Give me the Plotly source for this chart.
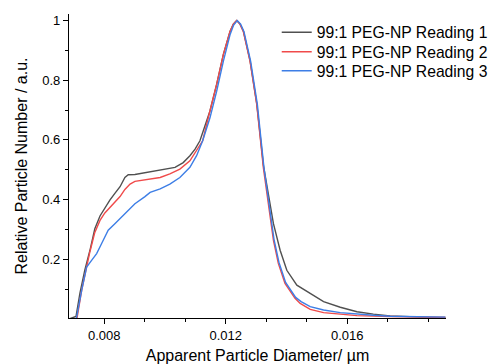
import plotly.graph_objects as go

# Reading 1 (black)
x1 = [0.00684, 0.00707, 0.00720, 0.00736, 0.00753, 0.00769, 0.00786, 0.00802, 0.00819, 0.00835,
      0.00852, 0.00868, 0.00879, 0.00901, 0.00934, 0.00951, 0.00984, 0.01033, 0.01060, 0.01082,
      0.01099, 0.01115, 0.01148, 0.01170, 0.01192, 0.01214, 0.01225, 0.01236, 0.01247, 0.01258,
      0.01280, 0.01302, 0.01324, 0.01335, 0.01357, 0.01379, 0.01401, 0.01434, 0.01472, 0.01522,
      0.01577, 0.01632, 0.01686, 0.01741, 0.01851, 0.01923]
y1 = [0.0, 0.008, 0.086, 0.163, 0.230, 0.302, 0.345, 0.372, 0.399, 0.421,
      0.443, 0.474, 0.483, 0.484, 0.490, 0.492, 0.497, 0.508, 0.524, 0.547,
      0.569, 0.597, 0.697, 0.786, 0.886, 0.963, 0.988, 1.0, 0.988, 0.965,
      0.866, 0.722, 0.515, 0.452, 0.319, 0.230, 0.163, 0.113, 0.088, 0.058,
      0.039, 0.024, 0.016, 0.010, 0.006, 0.005]

# Reading 2 (red)
x2 = [0.00684, 0.00710, 0.00726, 0.00742, 0.00753, 0.00769, 0.00786, 0.00802, 0.00835, 0.00852,
      0.00868, 0.00885, 0.00901, 0.00934, 0.00951, 0.00984, 0.01016, 0.01049, 0.01082, 0.01104,
      0.01124, 0.01148, 0.01170, 0.01192, 0.01214, 0.01225, 0.01236, 0.01247, 0.01258, 0.01280,
      0.01302, 0.01324, 0.01335, 0.01346, 0.01357, 0.01373, 0.01395, 0.01428, 0.01445, 0.01478,
      0.01522, 0.01577, 0.01632, 0.01741, 0.01851, 0.01923]
y2 = [0.0, 0.0, 0.097, 0.174, 0.226, 0.290, 0.330, 0.355, 0.392, 0.410,
      0.434, 0.452, 0.461, 0.466, 0.469, 0.474, 0.486, 0.502, 0.530, 0.563,
      0.597, 0.697, 0.786, 0.886, 0.963, 0.988, 1.0, 0.988, 0.963, 0.863,
      0.719, 0.505, 0.419, 0.341, 0.263, 0.186, 0.119, 0.069, 0.052, 0.032,
      0.021, 0.016, 0.011, 0.008, 0.006, 0.005]

# Reading 3 (blue)
x3 = [0.00684, 0.00708, 0.00726, 0.00742, 0.00759, 0.00775, 0.00791, 0.00813, 0.00835, 0.00857,
      0.00879, 0.00901, 0.00934, 0.00951, 0.00984, 0.01016, 0.01049, 0.01082, 0.01104, 0.01124,
      0.01148, 0.01170, 0.01192, 0.01214, 0.01226, 0.01238, 0.01249, 0.01260, 0.01282, 0.01304,
      0.01326, 0.01337, 0.01348, 0.01359, 0.01375, 0.01397, 0.01430, 0.01448, 0.01478, 0.01522,
      0.01577, 0.01632, 0.01686, 0.01741, 0.01851, 0.01923]
y3 = [0.0, 0.0, 0.097, 0.174, 0.197, 0.219, 0.252, 0.297, 0.319, 0.341,
      0.363, 0.386, 0.410, 0.424, 0.436, 0.452, 0.474, 0.508, 0.547, 0.597,
      0.674, 0.763, 0.863, 0.952, 0.985, 1.0, 0.988, 0.963, 0.863, 0.719,
      0.505, 0.424, 0.345, 0.266, 0.190, 0.122, 0.072, 0.058, 0.041, 0.030,
      0.021, 0.016, 0.012, 0.009, 0.007, 0.006]

names = ["99:1 PEG-NP Reading 1", "99:1 PEG-NP Reading 2", "99:1 PEG-NP Reading 3"]
colors = ["#505050", "#f04a4a", "#3d7ee6"]

x_ticks = [0.008, 0.012, 0.016]
x_ticklabels = ["0.008", "0.012", "0.016"]
y_ticks = [0.2, 0.4, 0.6, 0.8, 1.0]
y_ticklabels = ["0.2", "0.4", "0.6", "0.8", "1"]

FONT = "Arial, Liberation Sans, sans-serif"
legend_ids = ["legend", "legend2", "legend3"]
legend_y = [0.9947, 0.9309, 0.8684]

fig = go.Figure()
for xs, ys, n, c, lg in zip([x1, x2, x3], [y1, y2, y3], names, colors, legend_ids):
    fig.add_trace(go.Scatter(x=xs, y=ys, mode="lines", name=n, legend=lg,
                             line=dict(color=c, width=1.4)))

legend_common = dict(x=0.551, xanchor="left", yanchor="top",
                     font=dict(size=15.7, family=FONT), bgcolor="rgba(0,0,0,0)",
                     borderwidth=0)

fig.update_layout(
    width=490, height=364,
    margin=dict(l=69, r=44, t=14, b=46, autoexpand=False),
    paper_bgcolor="white", plot_bgcolor="white",
    font=dict(family=FONT, color="#000000"),
    legend=dict(y=legend_y[0], **legend_common),
    legend2=dict(y=legend_y[1], **legend_common),
    legend3=dict(y=legend_y[2], **legend_common),
    showlegend=True,
)
fig.update_xaxes(
    range=[0.00684, 0.01925], automargin=False,
    showline=True, linecolor="#000000", linewidth=1.3,
    showgrid=False, zeroline=False,
    ticks="outside", ticklen=5, tickwidth=1.2, tickcolor="#000000",
    tickvals=x_ticks, ticktext=x_ticklabels,
    tickfont=dict(size=13, family=FONT),
    minor=dict(ticks="outside", ticklen=3, tickwidth=1.2, tickcolor="#000000",
               tick0=0.008, dtick=0.004 / 3, showgrid=False),
    title=dict(text="Apparent Particle Diameter/ µm", font=dict(size=16, family=FONT), standoff=8),
)
fig.update_yaxes(
    range=[0.003, 1.022], automargin=False,
    showline=True, linecolor="#000000", linewidth=1.3,
    showgrid=False, zeroline=False,
    ticks="outside", ticklen=5, tickwidth=1.2, tickcolor="#000000",
    tickvals=y_ticks, ticktext=y_ticklabels,
    tickfont=dict(size=13, family=FONT),
    minor=dict(ticks="outside", ticklen=3, tickwidth=1.2, tickcolor="#000000",
               tick0=0.0, dtick=0.1, showgrid=False),
    title=dict(text="Relative Particle Number / a.u.", font=dict(size=16, family=FONT), standoff=10),
)

fig.write_html("out.html", config={"displayModeBar": False},
               post_script="document.body.style.margin='0';document.body.style.overflow='hidden';")
